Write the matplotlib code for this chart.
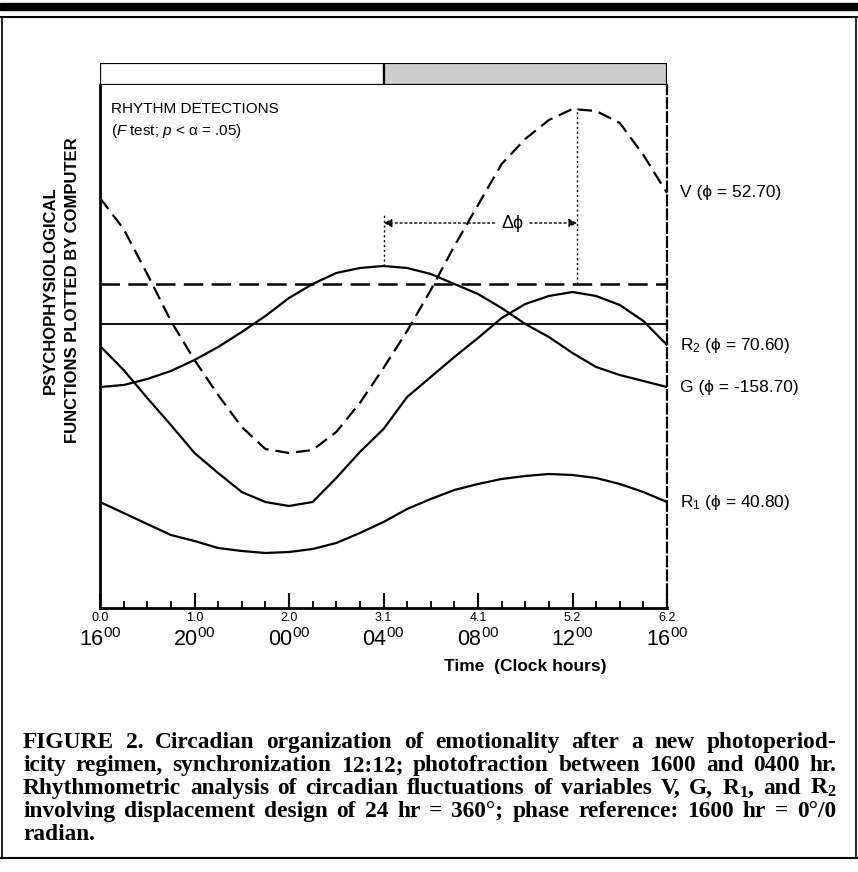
import numpy as np
import matplotlib.pyplot as plt
from matplotlib.patches import Rectangle
from matplotlib.lines import Line2D

plt.rcParams['font.family'] = ['Liberation Sans', 'DejaVu Sans']
plt.rcParams['mathtext.fontset'] = 'custom'
plt.rcParams['mathtext.rm'] = 'Liberation Sans'
plt.rcParams['mathtext.it'] = 'Liberation Sans:italic'
plt.rcParams['mathtext.bf'] = 'Liberation Sans:bold'
plt.rcParams['mathtext.sf'] = 'Liberation Serif:bold'
plt.rcParams['lines.scale_dashes'] = False

# hours after 16:00, one value per hour (arbitrary units)
hours = np.arange(0, 25)
V = [410, 379, 334, 287, 248, 213, 181, 159, 155, 158, 176, 205, 240,
     277, 318, 362, 403, 444, 469, 488, 499, 497, 485, 453, 415]
G = [221, 223, 229, 237, 248, 261, 276, 292, 310, 324, 335, 340, 342,
     340, 334, 324, 314, 300, 284, 271, 255, 241, 233, 227, 221]
R2 = [262, 238, 210, 183, 155, 135, 116, 106, 102, 106, 130, 156, 179,
      211, 231, 251, 270, 290, 304, 312, 316, 312, 303, 287, 263]
R1 = [106, 95, 84, 73, 67, 60, 57, 55, 56, 59, 65, 75, 86,
      99, 109, 118, 124, 129, 132, 134, 133, 130, 124, 116, 106]
V_mesor = 324
G_mesor = 284
G_peak = (12.0, 342)
V_peak = (20.2, 500)

labels_right = ['V (ϕ = 52.70)', 'R$_2$ (ϕ = 70.60)', 'G (ϕ = -158.70)', 'R$_1$ (ϕ = 40.80)']
major_hours = [0, 4, 8, 12, 16, 20, 24]
radian_labels = ['0.0', '1.0', '2.0', '3.1', '4.1', '5.2', '6.2']
clock_labels = ['16$^{00}$', '20$^{00}$', '00$^{00}$', '04$^{00}$', '08$^{00}$', '12$^{00}$', '16$^{00}$']
light = (0, 12)
dark = (12, 24)

caption = [
    'FIGURE 2. Circadian organization of emotionality after a new photoperiod-',
    'icity regimen, synchronization 12:12; photofraction between 1600 and 0400 hr.',
    r'Rhythmometric analysis of circadian fluctuations of variables V, G, $\mathsf{R_1}$, and $\mathsf{R_2}$',
    'involving  displacement design of 24 hr = 360°; phase reference: 1600 hr = 0°/0',
    'radian.',
]

W, H = 858, 872
fig = plt.figure(figsize=(W / 100, H / 100), dpi=100)


def fx(px):
    return px / W


def fy(py):
    return 1 - py / H


# page rules
fig.add_artist(Rectangle((0, fy(10)), 1, 7 / H, color='black', transform=fig.transFigure))
fig.add_artist(Line2D([0, 1], [fy(17), fy(17)], lw=1.5, color='black', transform=fig.transFigure))
fig.add_artist(Line2D([fx(2), fx(2)], [fy(17), fy(858)], lw=1.2, color='black', transform=fig.transFigure))
fig.add_artist(Line2D([fx(856), fx(856)], [fy(17), fy(858)], lw=1.2, color='black', transform=fig.transFigure))
fig.add_artist(Line2D([0, 1], [fy(858), fy(858)], lw=1.5, color='black', transform=fig.transFigure))

# light/dark bar
bar = fig.add_axes([fx(100), fy(85), fx(667) - fx(100), fy(63) - fy(85)])
bar.set_xlim(0, 24)
bar.set_ylim(0, 1)
bar.add_patch(Rectangle((light[0], 0), light[1] - light[0], 1, facecolor='white', edgecolor='black', lw=1.6))
bar.add_patch(Rectangle((dark[0], 0), dark[1] - dark[0], 1, facecolor='#cdcdcd', edgecolor='black', lw=1.6))
bar.axis('off')

ax = fig.add_axes([fx(100), fy(608), fx(667) - fx(100), fy(85) - fy(608)])
ax.set_xlim(0, 24)
ax.set_ylim(0, 523)

ax.plot(hours, V, color='black', lw=1.6, ls=(0, (10, 5)))
ax.plot(hours, G, color='black', lw=1.6)
ax.plot(hours, R2, color='black', lw=1.6)
ax.plot(hours, R1, color='black', lw=1.6)
ax.axhline(V_mesor, color='black', lw=1.8, ls=(0, (14, 6)))
ax.axhline(G_mesor, color='black', lw=1.3)

# phase difference annotation
arrow_y = 385
ax.plot([G_peak[0], G_peak[0]], [G_peak[1], arrow_y + 10], color='black', lw=1, ls=(0, (1.5, 2)))
ax.plot([V_peak[0], V_peak[0]], [V_mesor, V_peak[1]], color='black', lw=1, ls=(0, (1.5, 2)))
ax.annotate('', xy=(G_peak[0], arrow_y), xytext=(16.7, arrow_y),
            arrowprops=dict(arrowstyle='-|>', color='black', lw=1, ls=(0, (1.5, 2)),
                            shrinkA=0, shrinkB=0, mutation_scale=12))
ax.annotate('', xy=(V_peak[0], arrow_y), xytext=(18.2, arrow_y),
            arrowprops=dict(arrowstyle='-|>', color='black', lw=1, ls=(0, (1.5, 2)),
                            shrinkA=0, shrinkB=0, mutation_scale=12))
ax.text(17.45, arrow_y, 'Δϕ', ha='center', va='center', fontsize=13)

for lab, ser in zip(labels_right, [V, R2, G, R1]):
    ax.annotate(lab, xy=(24, ser[-1]), xytext=(13, 0), textcoords='offset pixels',
                va='center', ha='left', fontsize=12.5, annotation_clip=False)

ax.text(0.02, 0.955, 'RHYTHM DETECTIONS', transform=ax.transAxes, fontsize=11, va='center')
ax.text(0.02, 0.913, r'($\mathit{F}$ test; $\mathit{p}$ < α = .05)', transform=ax.transAxes,
        fontsize=11, va='center')

# axes styling
ax.spines['top'].set_visible(False)
ax.spines['left'].set_linewidth(2)
ax.spines['bottom'].set_linewidth(2)
ax.spines['right'].set_linewidth(1.6)
ax.spines['right'].set_linestyle((0, (7, 3)))
ax.set_yticks([])
ax.set_xticks(major_hours, radian_labels, fontsize=9)
ax.set_xticks(hours, minor=True)
ax.tick_params(axis='x', which='major', direction='in', length=11, width=1.5, pad=3)
ax.tick_params(axis='x', which='minor', direction='in', length=5, width=1.3)

for h, lab in zip(major_hours, clock_labels):
    fig.text(fx(100 + h * 567 / 24), fy(640), lab, ha='center', va='center', fontsize=15.5)

fig.text(fx(525), fy(666), 'Time  (Clock hours)', ha='center', va='center',
         fontsize=12.5, fontweight='bold')

fig.text(fx(50), fy(290), 'PSYCHOPHYSIOLOGICAL', rotation=90, ha='center', va='center',
         fontsize=12, fontweight='bold')
fig.text(fx(73), fy(290), 'FUNCTIONS PLOTTED BY COMPUTER', rotation=90, ha='center', va='center',
         fontsize=12, fontweight='bold')

# caption, justified between x=23 and x=836 px (last line left aligned)
renderer = fig.canvas.get_renderer()
left_px, right_px = 23, 836
for i, line in enumerate(caption):
    y = fy(748 + 23 * i)
    words = line.split()
    txts = [fig.text(0, y, w, ha='left', va='baseline', fontsize=16.8, fontweight='bold',
                     family='Liberation Serif') for w in words]
    widths = [t.get_window_extent(renderer).width for t in txts]
    if i < len(caption) - 1 and len(words) > 1:
        gap = (right_px - left_px - sum(widths)) / (len(words) - 1)
    else:
        gap = 4.5
    x = left_px
    for t, wdt in zip(txts, widths):
        t.set_x(fx(x))
        x += wdt + gap

fig.savefig('out.png', dpi=100)
